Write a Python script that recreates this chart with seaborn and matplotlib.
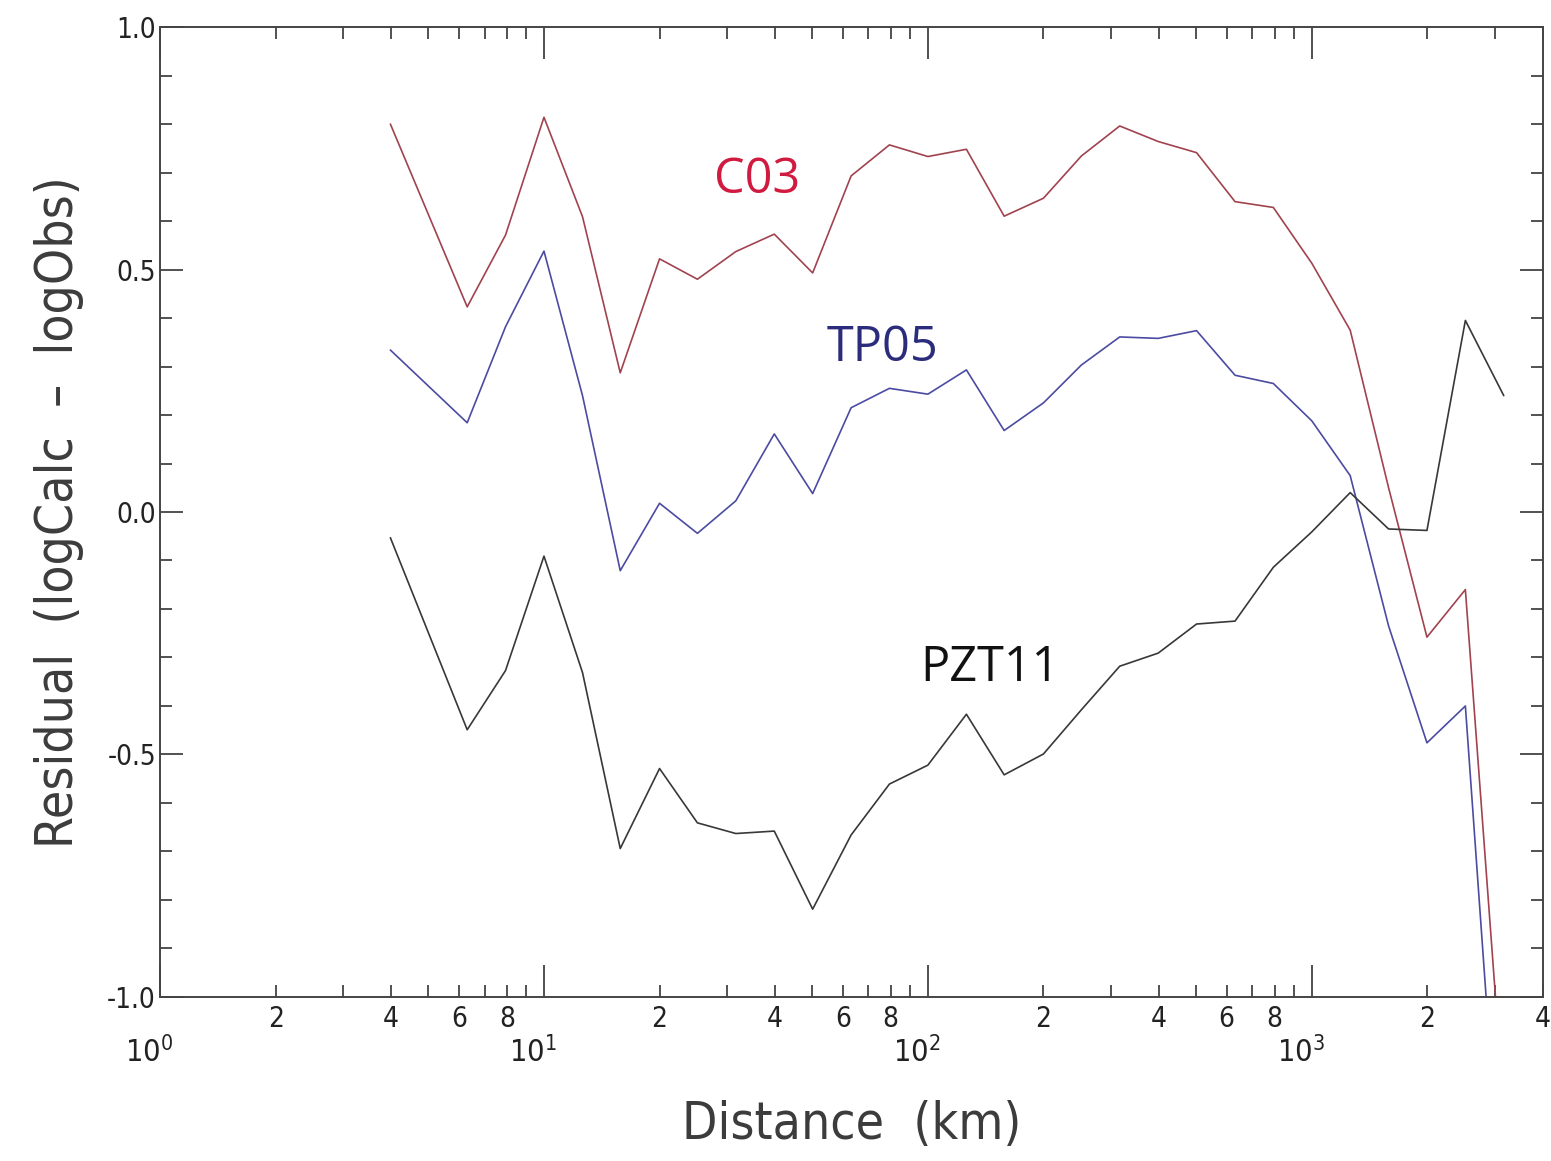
import matplotlib
matplotlib.use("Agg")
import matplotlib.pyplot as plt
import numpy as np
import pandas as pd
import seaborn as sns
from matplotlib.ticker import FixedLocator, FixedFormatter
from matplotlib.transforms import ScaledTranslation

# ---------------- data ----------------
distance_km = [3.98, 6.31, 7.94, 10.0, 12.6, 15.8, 20.0, 25.1, 31.6, 39.8,
               50.1, 63.1, 79.4, 100.0, 126.0, 158.0, 200.0, 251.0, 316.0,
               398.0, 501.0, 631.0, 794.0, 1000.0, 1259.0, 1585.0, 1995.0,
               2512.0, 3162.0]

c03 = [0.800, 0.423, 0.571, 0.814, 0.609, 0.287, 0.522, 0.480, 0.537, 0.573,
       0.493, 0.693, 0.757, 0.733, 0.748, 0.610, 0.647, 0.734, 0.796, 0.764,
       0.741, 0.640, 0.628, 0.513, 0.375, 0.050, -0.258, -0.160, -1.230]

tp05 = [0.334, 0.184, 0.382, 0.538, 0.240, -0.121, 0.018, -0.044, 0.023, 0.161,
        0.038, 0.215, 0.255, 0.243, 0.293, 0.168, 0.225, 0.303, 0.361, 0.358,
        0.374, 0.282, 0.265, 0.188, 0.075, -0.235, -0.476, -0.400, -1.510]

pzt11 = [-0.053, -0.449, -0.327, -0.091, -0.331, -0.694, -0.529, -0.641, -0.663, -0.658,
         -0.819, -0.666, -0.561, -0.522, -0.417, -0.542, -0.499, -0.408, -0.318, -0.291,
         -0.231, -0.225, -0.114, -0.041, 0.040, -0.035, -0.038, 0.395, 0.240]

series_names = ["C03", "TP05", "PZT11"]
line_colors = ["#a0434f", "#4b4ba2", "#383838"]
text_colors = ["#d11a40", "#2c2c7c", "#111111"]
text_x = [36.0, 76.0, 145.0]
text_y = [0.685, 0.338, -0.322]

x_major_ticks = [1, 10, 100, 1000]
x_major_labels = [r"$\mathregular{10^{0}}$", r"$\mathregular{10^{1}}$",
                  r"$\mathregular{10^{2}}$", r"$\mathregular{10^{3}}$"]
x_minor_ticks = [2, 3, 4, 5, 6, 7, 8, 9,
                 20, 30, 40, 50, 60, 70, 80, 90,
                 200, 300, 400, 500, 600, 700, 800, 900,
                 2000, 3000, 4000]
x_minor_labels = ["2", "", "4", "", "6", "", "8", "",
                  "2", "", "4", "", "6", "", "8", "",
                  "2", "", "4", "", "6", "", "8", "",
                  "2", "", "4"]
y_major_ticks = [-1.0, -0.5, 0.0, 0.5, 1.0]
y_major_labels = ["-1.0", "-0.5", "0.0", "0.5", "1.0"]
y_minor_ticks = [-0.9, -0.8, -0.7, -0.6, -0.4, -0.3, -0.2, -0.1,
                 0.1, 0.2, 0.3, 0.4, 0.6, 0.7, 0.8, 0.9]

# ---------------- style ----------------
sns.set_style("ticks")
plt.rcParams["font.family"] = ["DejaVu Sans"]
plt.rcParams["font.stretch"] = "condensed"
plt.rcParams["mathtext.fontset"] = "custom"
plt.rcParams["mathtext.rm"] = "DejaVu Sans:stretch=condensed"
plt.rcParams["mathtext.it"] = "DejaVu Sans:stretch=condensed"

frames = []
for name, vals in zip(series_names, [c03, tp05, pzt11]):
    frames.append(pd.DataFrame({"distance": distance_km, "residual": vals, "model": name}))
df = pd.concat(frames, ignore_index=True)

fig = plt.figure(figsize=(15.51, 11.61), dpi=100)
ax = fig.add_axes([0.1032, 0.1413, 0.8916, 0.8354])

sns.lineplot(data=df, x="distance", y="residual", hue="model",
             palette=dict(zip(series_names, line_colors)),
             sort=False, estimator=None, linewidth=1.2, legend=False, ax=ax)

ax.set_xscale("log")
ax.set_xlim(1, 4000)
ax.set_ylim(-1, 1)

ax.xaxis.set_major_locator(FixedLocator(x_major_ticks))
ax.xaxis.set_major_formatter(FixedFormatter(x_major_labels))
ax.xaxis.set_minor_locator(FixedLocator(x_minor_ticks))
ax.xaxis.set_minor_formatter(FixedFormatter(x_minor_labels))
ax.yaxis.set_major_locator(FixedLocator(y_major_ticks))
ax.yaxis.set_major_formatter(FixedFormatter(y_major_labels))
ax.yaxis.set_minor_locator(FixedLocator(y_minor_ticks))

tick_col = "#222222"
ax.tick_params(axis="x", which="major", direction="in", length=23, width=1.1,
               top=True, bottom=True, pad=28, labelsize=22, colors=tick_col)
ax.tick_params(axis="x", which="minor", direction="in", length=8.5, width=1.1,
               top=True, bottom=True, pad=6, labelsize=20, colors=tick_col)
ax.tick_params(axis="y", which="major", direction="in", length=16.5, width=1.1,
               left=True, right=True, pad=3, labelsize=20, colors=tick_col)
ax.tick_params(axis="y", which="minor", direction="in", length=8.5, width=1.1,
               left=True, right=True, colors=tick_col)

for lab in ax.xaxis.get_majorticklabels():
    lab.set_transform(lab.get_transform() + ScaledTranslation(-8 / 72, 0, fig.dpi_scale_trans))

for sp in ax.spines.values():
    sp.set_linewidth(1.4)
    sp.set_color("#444444")

ax.set_xlabel("Distance  (km)", fontsize=37, color="#3c3c3c")
ax.set_ylabel("Residual  (logCalc  \u2013  logObs)", fontsize=37, color="#3c3c3c")
ax.xaxis.set_label_coords(0.5, -0.106)
ax.yaxis.set_label_coords(-0.055, 0.5)

for name, tx, ty, col in zip(series_names, text_x, text_y, text_colors):
    ax.text(tx, ty, name, ha="center", va="center", fontsize=35, color=col,
            family=["Open Sans", "DejaVu Sans"], fontstretch="normal")

fig.savefig("out.png", dpi=100)
